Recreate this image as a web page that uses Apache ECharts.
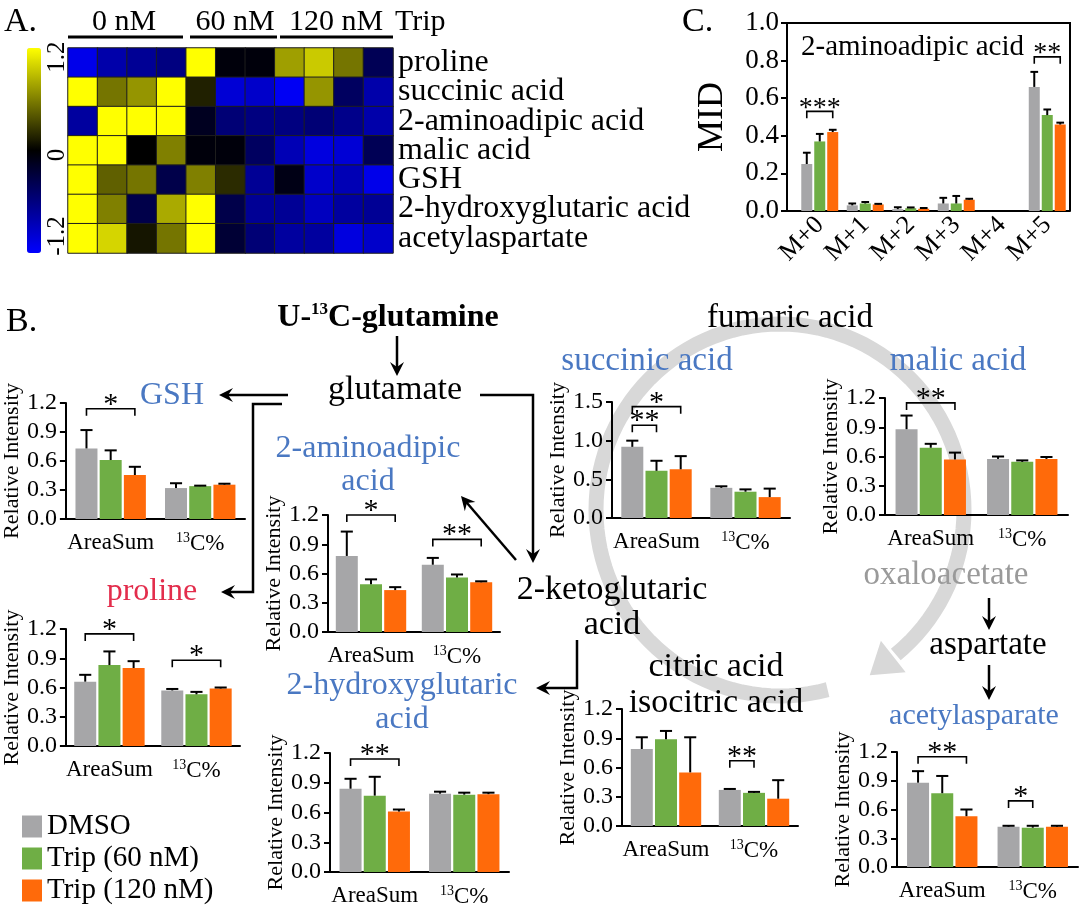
<!DOCTYPE html>
<html><head><meta charset="utf-8">
<script src="https://cdn.jsdelivr.net/npm/echarts@6/dist/echarts.min.js"></script>
<style>html,body{margin:0;padding:0;background:#fff}#c{width:1080px;height:910px}</style>
</head><body><div id="c"></div>
<script>
const FONT = 'Liberation Serif';
// ---------- Panel A: heatmap ----------
const heatRows = ['proline','succinic acid','2-aminoadipic acid','malic acid','GSH','2-hydroxyglutaric acid','acetylaspartate'];
const heatSamples = ['0nM-1','0nM-2','0nM-3','0nM-4','60nM-1','60nM-2','60nM-3','120nM-1','120nM-2','120nM-3','120nM-4'];
const heatValues = [
  [-1.1,-0.8,-0.7,-0.6, 1.2,-0.05,-0.05, 0.75, 0.95, 0.55,-0.4],
  [ 1.2, 0.55, 0.7, 1.2, 0.15,-1.0,-0.95,-1.15, 0.7,-0.45,-0.8],
  [-0.75, 1.2, 1.2, 1.2,-0.15,-0.55,-0.6,-0.6,-0.55,-0.65,-0.8],
  [ 1.2, 1.2, 0.0, 0.6,-0.05,-0.05,-0.45,-0.85,-1.05,-1.0,-0.4],
  [ 1.2, 0.45, 0.55,-0.35, 0.6, 0.2,-0.7,-0.1,-0.95,-0.85,-1.1],
  [ 1.2, 0.6,-0.35, 0.8, 1.2,-0.35,-0.7,-0.7,-0.9,-0.75,-0.7],
  [ 1.2, 1.0, 0.1, 0.55, 1.2,-0.25,-0.55,-0.75,-0.75,-1.05,-0.95]
];
const heatGroups = ['0 nM','60 nM','120 nM'];
// ---------- Panel C: MID ----------
const midCats = ['M+0','M+1','M+2','M+3','M+4','M+5'];
const midMean = [
  [0.25, 0.03, 0.01, 0.04, 0, 0.66],
  [0.37, 0.04, 0.015, 0.04, 0, 0.51],
  [0.42, 0.035, 0.012, 0.06, 0, 0.46]
];
const midErr = [
  [0.06, 0.01, 0.01, 0.03, 0, 0.08],
  [0.04, 0.008, 0.004, 0.04, 0, 0.03],
  [0.012, 0.003, 0.004, 0.005, 0, 0.01]
];
const midSig = [[0,0,2,0.53,'***'],[5,0,2,0.82,'**']];
// ---------- Panel B ----------
const groups = ['AreaSum','13C%'];
const seriesNames = ['DMSO','Trip (60 nM)','Trip (120 nM)'];
const gshMean = [[0.73,0.32],[0.61,0.34],[0.455,0.355]];
const gshErr  = [[0.19,0.05],[0.10,0.005],[0.085,0.01]];
const gshSig  = [[0,0,2,1.14,'*']];
const proMean = [[0.66,0.57],[0.83,0.53],[0.80,0.59]];
const proErr  = [[0.07,0.015],[0.14,0.025],[0.07,0.01]];
const proSig  = [[0,0,2,1.15,'*'],[1,0,2,0.88,'*']];
const aadMean = [[0.78,0.69],[0.49,0.56],[0.43,0.51]];
const aadErr  = [[0.25,0.07],[0.05,0.03],[0.03,0.01]];
const aadSig  = [[0,0,2,1.2,'*'],[1,0,2,0.95,'**']];
const sucMean = [[0.92,0.39],[0.61,0.34],[0.63,0.27]];
const sucErr  = [[0.08,0.02],[0.13,0.03],[0.17,0.11]];
const sucSig  = [[0,0,2,1.44,'*'],[0,0,1,1.2,'**']];
const malMean = [[0.88,0.575],[0.69,0.545],[0.57,0.575]];
const malErr  = [[0.14,0.025],[0.04,0.015],[0.07,0.02]];
const malSig  = [[0,0,2,1.15,'**']];
const citMean = [[0.79,0.37],[0.89,0.34],[0.55,0.28]];
const citErr  = [[0.12,0.01],[0.085,0.01],[0.36,0.19]];
const citSig  = [[1,0,1,0.67,'**']];
const hgMean  = [[0.84,0.79],[0.77,0.78],[0.61,0.785]];
const hgErr   = [[0.10,0.02],[0.19,0.02],[0.02,0.015]];
const hgSig   = [[0,0,2,1.14,'**']];
const aspMean = [[0.88,0.42],[0.77,0.41],[0.53,0.42]];
const aspErr  = [[0.12,0.01],[0.18,0.02],[0.07,0.01]];
const aspSig  = [[0,0,2,1.15,'**'],[1,0,1,0.69,'*']];

const colors = ['#a6a6a8','#6fae45','#ff6a0a'];
const BLUE = '#4a78c2', RED = '#e32d4c';

const panels = [
  {mean:gshMean, err:gshErr, sig:gshSig, box:[63,403,182,116], max:1.2, step:0.3},
  {mean:proMean, err:proErr, sig:proSig, box:[63,629,177,117], max:1.2, step:0.3},
  {mean:aadMean, err:aadErr, sig:aadSig, box:[328,515,172,117], max:1.2, step:0.3},
  {mean:sucMean, err:sucErr, sig:sucSig, box:[612,402,178,116], max:1.5, step:0.5},
  {mean:malMean, err:malErr, sig:malSig, box:[885,398,183,117], max:1.2, step:0.3},
  {mean:citMean, err:citErr, sig:citSig, box:[622,709,176,117], max:1.2, step:0.3},
  {mean:hgMean,  err:hgErr,  sig:hgSig,  box:[330,753,179,119], max:1.2, step:0.3},
  {mean:aspMean, err:aspErr, sig:aspSig, box:[897,752,181,115], max:1.2, step:0.3}
];

function errSeries(g, mean, err, barW, gapFrac, capFrac){
  const data = [];
  mean.forEach((arr,k)=>arr.forEach((m,i)=>{ if(err[k][i]>0) data.push([i, m, m+err[k][i], k]); }));
  return {type:'custom', xAxisIndex:g, yAxisIndex:g, z:3, silent:true, data,
    renderItem(params, api){
      const k = api.value(3);
      const b = api.coord([api.value(0), api.value(1)]);
      const t = api.coord([api.value(0), api.value(2)]);
      const x = b[0] + (k-1)*barW*(1+gapFrac);
      const cap = barW*capFrac/2;
      return {type:'group', children:[
        {type:'line', shape:{x1:x,y1:b[1],x2:x,y2:t[1]}, style:{stroke:'#000',lineWidth:2}},
        {type:'line', shape:{x1:x-cap,y1:t[1],x2:x+cap,y2:t[1]}, style:{stroke:'#000',lineWidth:2}}
      ]};
    }};
}
function sigSeries(g, sig, barW, gapFrac, fs){
  return {type:'custom', xAxisIndex:g, yAxisIndex:g, z:4, silent:true,
    data: sig.map(s=>[s[0], s[3]]),
    renderItem(params, api){
      const s = sig[params.dataIndex];
      const c = api.coord([api.value(0), api.value(1)]);
      const step = barW*(1+gapFrac);
      const x1 = c[0] + (s[1]-1)*step, x2 = c[0] + (s[2]-1)*step;
      const y = c[1], leg = 7;
      return {type:'group', children:[
        {type:'polyline', shape:{points:[[x1,y+leg],[x1,y],[x2,y],[x2,y+leg]]}, style:{stroke:'#000', lineWidth:1.6, fill:null}},
        {type:'text', style:{text:s[4], x:(x1+x2)/2, y:y+11, fontSize:fs, fontFamily:FONT, fill:'#000', align:'center', verticalAlign:'bottom', textAlign:'center', textVerticalAlign:'bottom'}}
      ]};
    }};
}

const grids = [], xAxes = [], yAxes = [], series = [];
// heatmap grid 0
grids.push({left:68, top:48, width:325, height:205});
xAxes.push({gridIndex:0, type:'category', data:heatSamples, show:false});
yAxes.push({gridIndex:0, type:'category', data:heatRows, inverse:true, position:'right',
  axisLine:{show:false}, axisTick:{show:false},
  axisLabel:{interval:0, fontSize:32, fontFamily:FONT, color:'#000', margin:5, padding:[3,0,0,0]}});
const heatData = [];
heatValues.forEach((row,r)=>row.forEach((v,c)=>heatData.push([c,r,v])));
series.push({type:'heatmap', xAxisIndex:0, yAxisIndex:0, data:heatData,
  itemStyle:{borderColor:'#1e1e1e', borderWidth:1}});

// panel C grid 1
grids.push({left:797, top:23, width:273, height:188});
xAxes.push({gridIndex:1, type:'category', data:midCats,
  axisLine:{lineStyle:{color:'#000',width:2}},
  axisTick:{alignWithLabel:true, length:8, lineStyle:{color:'#000',width:2}},
  axisLabel:{interval:0, rotate:45, fontSize:26, fontFamily:FONT, color:'#000', margin:10}});
yAxes.push({gridIndex:1, type:'value', min:0, max:1, interval:0.2, offset:10,
  axisLine:{show:true, lineStyle:{color:'#000',width:2}},
  axisTick:{show:true, length:6, lineStyle:{color:'#000',width:2}},
  splitLine:{show:false},
  axisLabel:{fontSize:27, fontFamily:FONT, color:'#000', margin:8, formatter:v=>v.toFixed(1)},
  name:'MID', nameLocation:'middle', nameGap:56, nameTextStyle:{fontSize:36, fontFamily:FONT, color:'#000'}});
for(let k=0;k<3;k++){
  series.push({type:'bar', name:seriesNames[k], xAxisIndex:1, yAxisIndex:1, data:midMean[k],
    barWidth:11, barGap:'18%', itemStyle:{color:colors[k]}});
}
series.push(errSeries(1, midMean, midErr, 11, 0.18, 0.7));
series.push(sigSeries(1, midSig, 11, 0.18, 28));

// panel B grids
const catRich = {n:{fontSize:23, fontFamily:FONT, color:'#000'}, s:{fontSize:14, fontFamily:FONT, color:'#000', padding:[0,0,12,0]}};
panels.forEach((p,i)=>{
  const g = grids.length;
  grids.push({left:p.box[0], top:p.box[1], width:p.box[2], height:p.box[3]});
  xAxes.push({gridIndex:g, type:'category', data:groups,
    axisLine:{lineStyle:{color:'#000',width:2}},
    axisTick:{alignWithLabel:true, length:7, lineStyle:{color:'#000',width:2}},
    axisLabel:{interval:0, margin:12, formatter:v=> v==='13C%' ? '{s|13}{n|C%}' : '{n|'+v+'}', rich:catRich}});
  yAxes.push({gridIndex:g, type:'value', min:0, max:p.max, interval:p.step,
    axisLine:{show:true, lineStyle:{color:'#000',width:2}},
    axisTick:{show:true, length:6, lineStyle:{color:'#000',width:2}},
    splitLine:{show:false},
    axisLabel:{fontSize:24, fontFamily:FONT, color:'#000', margin:9, formatter:v=>v.toFixed(1)},
    name:'Relative Intensity', nameLocation:'middle', nameGap:37,
    nameTextStyle:{fontSize:22, fontFamily:FONT, color:'#000'}});
  for(let k=0;k<3;k++){
    series.push({type:'bar', name:seriesNames[k], xAxisIndex:g, yAxisIndex:g, data:p.mean[k],
      barWidth:22, barGap:'10%', itemStyle:{color:colors[k]}});
  }
  series.push(errSeries(g, p.mean, p.err, 22, 0.1, 0.55));
  series.push(sigSeries(g, p.sig, 22, 0.1, 30));
});

// ---------- graphics ----------
function txt(s, x, y, size, color, o){
  o = o || {};
  const al = o.align || 'center';
  return {type:'text', x, y, z:20, rotation:o.rot||0, style:{text:s, fontSize:size, fontFamily:FONT,
    fontWeight:o.bold?'bold':'normal', fill:color||'#000', align:al, verticalAlign:'middle',
    textAlign:al, textVerticalAlign:'middle', rich:o.rich}};
}
function line(pts, w, col){
  return {type:'polyline', z:15, shape:{points:pts}, style:{stroke:col||'#000', lineWidth:w||2.5, fill:null}};
}
function head(x, y, dx, dy, L, W, col){
  const n = Math.hypot(dx,dy); dx/=n; dy/=n;
  const bx = x-dx*L, by = y-dy*L, px = -dy, py = dx;
  return {type:'polygon', z:15, shape:{points:[[x,y],[bx+px*W,by+py*W],[x-dx*L*0.65,y-dy*L*0.65],[bx-px*W,by-py*W]]},
    style:{fill:col||'#000'}};
}
function arrow(pts, w, col){
  const a = pts[pts.length-2], b = pts[pts.length-1];
  const dx = b[0]-a[0], dy = b[1]-a[1];
  const n = Math.hypot(dx,dy);
  const end = [b[0]-dx/n*6, b[1]-dy/n*6];
  const p2 = pts.slice(0,-1).concat([end]);
  return [line(p2, w, col), head(b[0], b[1], dx, dy, 14, 7, col)];
}
// TCA ring
const ring = {cx:780, cy:510, rx:184, ry:186};
function ePt(t){ const r = t*Math.PI/180; return [ring.cx+ring.rx*Math.cos(r), ring.cy+ring.ry*Math.sin(r)]; }
const ringPts = [];
for(let t=75; t<=412; t+=3) ringPts.push(ePt(t));
const tEnd = 412, pe = ePt(tEnd);
const tr = tEnd*Math.PI/180;
let tdx = -ring.rx*Math.sin(tr), tdy = ring.ry*Math.cos(tr);
const tn = Math.hypot(tdx,tdy); tdx/=tn; tdy/=tn;
const tip = [pe[0]+tdx*30, pe[1]+tdy*30];
const ringGraphics = [
  {type:'polyline', z:-5, shape:{points:ringPts}, style:{stroke:'#d8d8d8', lineWidth:15, fill:null}},
  {type:'polygon', z:-5, shape:{points:[tip,[pe[0]-tdy*20,pe[1]+tdx*20],[pe[0]+tdy*20,pe[1]-tdx*20]]}, style:{fill:'#d8d8d8'}}
];

const graphics = [].concat(
  ringGraphics,
  [
    txt('A.', 4, 22, 34, '#000', {align:'left'}),
    txt('B.', 6, 322, 34, '#000', {align:'left'}),
    txt('C.', 682, 22, 34, '#000', {align:'left'}),
    txt(heatGroups[0], 124, 22, 30), txt(heatGroups[1], 235, 22, 30), txt(heatGroups[2], 336, 22, 30),
    txt('Trip', 395, 22, 30, '#000', {align:'left'}),
    line([[68,37],[183,37]], 3), line([[190,37],[277,37]], 3), line([[280,37],[393,37]], 3),
    txt('1.2', 57, 57, 25, '#000', {rot:Math.PI/2}),
    txt('0', 57, 155, 25, '#000', {rot:Math.PI/2}),
    txt('-1.2', 57, 236, 25, '#000', {rot:Math.PI/2}),
    txt('2-aminoadipic acid', 801, 47, 29, '#000', {align:'left'}),
    line([[787,23],[1070,23],[1070,211]], 2), line([[786,211],[798,211]], 2),
    txt('{b|U-}{s|13}{b|C-glutamine}', 388, 318, 32, '#000', {bold:true, rich:{
      b:{fontSize:32, fontFamily:FONT, fontWeight:'bold', fill:'#000'},
      s:{fontSize:17, fontFamily:FONT, fontWeight:'bold', fill:'#000', padding:[0,0,16,0]}}}),
    txt('glutamate', 395, 390, 34),
    txt('GSH', 140, 396, 32, BLUE, {align:'left'}),
    txt('proline', 152, 592, 32, RED),
    txt('2-aminoadipic', 368, 449, 32, BLUE), txt('acid', 368, 482, 32, BLUE),
    txt('succinic acid', 647, 361, 33, BLUE),
    txt('fumaric acid', 790, 318, 33),
    txt('malic acid', 958, 361, 33, BLUE),
    txt('2-ketoglutaric', 612, 590, 34), txt('acid', 612, 625, 34),
    txt('oxaloacetate', 946, 575, 33, '#9a9a9a'),
    txt('aspartate', 988, 645, 33),
    txt('acetylasparate', 974, 716, 30, BLUE),
    txt('citric acid', 716, 667, 34), txt('isocitric acid', 716, 703, 34),
    txt('2-hydroxyglutaric', 402, 686, 32, BLUE), txt('acid', 402, 720, 32, BLUE)
  ],
  arrow([[397,336],[397,376]]),
  arrow([[288,395],[219,395]]),
  arrow([[282,404],[253,404],[253,592],[221,592]]),
  arrow([[480,395],[533,395],[533,563]]),
  arrow([[516,560],[461,496]]),
  arrow([[577,640],[577,688],[536,688]]),
  arrow([[989,598],[989,630]]),
  arrow([[989,665],[989,700]])
);

const option = {
  animation:false,
  textStyle:{fontFamily:FONT},
  grid:grids, xAxis:xAxes, yAxis:yAxes, series,
  visualMap:{type:'continuous', min:-1.2, max:1.2, seriesIndex:0, left:27, top:48, padding:0,
    itemWidth:14, itemHeight:205, calculable:false, showLabel:false, text:null,
    inRange:{color:['#0000ff','#000000','#ffff00']}},
  legend:{data:seriesNames, orient:'vertical', left:22, top:812, height:120, padding:0, itemWidth:20, itemHeight:22, itemGap:3,
    icon:'rect', textStyle:{fontSize:29, fontFamily:FONT, color:'#000', lineHeight:29}, selectedMode:false},
  graphic:{elements:graphics}
};
const chart = echarts.init(document.getElementById('c'));
chart.setOption(option);
</script></body></html>
